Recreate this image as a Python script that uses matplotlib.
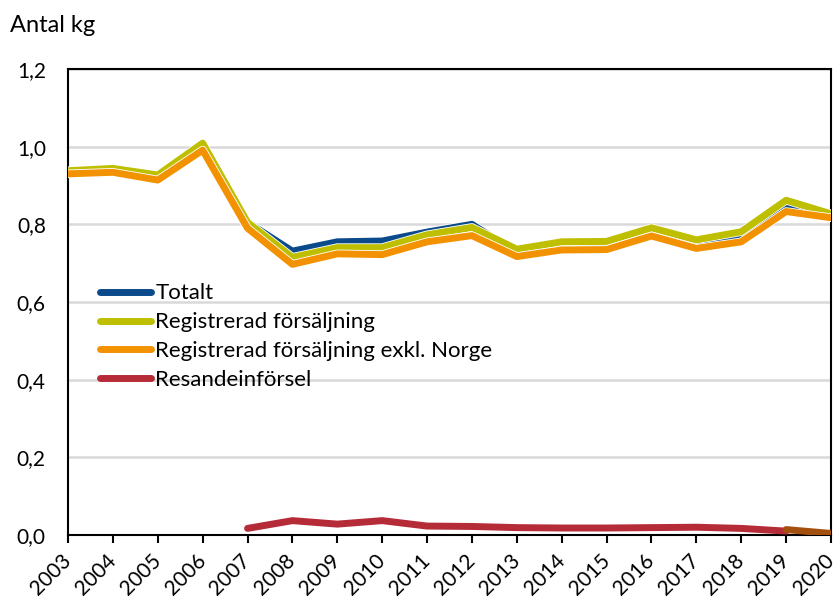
import matplotlib
matplotlib.use("Agg")
import matplotlib.pyplot as plt
import matplotlib.patheffects as pe
from matplotlib.ticker import FuncFormatter

plt.rcParams['font.family'] = ['Lato', 'DejaVu Sans']

years = list(range(2003, 2021))

totalt = [0.933, 0.939, 0.920, 1.000, 0.805, 0.731, 0.755, 0.757, 0.780, 0.800,
          0.727, 0.746, 0.746, 0.779, 0.751, 0.769, 0.845, 0.821]
registrerad = [0.938, 0.944, 0.927, 1.009, 0.805, 0.715, 0.740, 0.740, 0.773, 0.792,
               0.736, 0.755, 0.756, 0.791, 0.760, 0.781, 0.862, 0.827]
exkl_norge = [0.930, 0.934, 0.914, 0.991, 0.790, 0.697, 0.724, 0.722, 0.755, 0.771,
              0.717, 0.734, 0.735, 0.770, 0.738, 0.755, 0.833, 0.817]
resand_years = list(range(2007, 2020))
resand = [0.017, 0.037, 0.028, 0.037, 0.023, 0.022, 0.019, 0.018, 0.018, 0.019,
          0.020, 0.017, 0.010]
# sista segmentet i annan färg (ingen legend)
resand2_years = [2019, 2020]
resand2 = [0.014, 0.004]

fig = plt.figure(figsize=(8.37, 5.99), dpi=100)
ax = fig.add_axes([68 / 837, 1 - 535 / 599, (831 - 68) / 837, (535 - 69) / 599])

lw = 5
edge = [pe.Stroke(linewidth=lw + 1.2, foreground='white'), pe.Normal()]

ax.plot(years, totalt, color='#0B4A8B', lw=lw, label='Totalt',
        solid_capstyle='round', path_effects=edge, zorder=3)
ax.plot(years, registrerad, color='#BDBF00', lw=lw, label='Registrerad försäljning',
        solid_capstyle='round', path_effects=edge, zorder=4)
ax.plot(years, exkl_norge, color='#F39200', lw=lw, label='Registrerad försäljning exkl. Norge',
        solid_capstyle='round', path_effects=edge, zorder=5)
ax.plot(resand_years, resand, color='#B52B38', lw=lw, label='Resandeinförsel',
        solid_capstyle='round', zorder=3)
ax.plot(resand2_years, resand2, color='#A3500F', lw=lw, solid_capstyle='round', zorder=4)

ax.set_xlim(2003, 2020)
ax.set_ylim(0, 1.2)
ax.set_yticks([0, 0.2, 0.4, 0.6, 0.8, 1.0, 1.2])
ax.yaxis.set_major_formatter(FuncFormatter(lambda v, p: f"{v:.1f}".replace('.', ',')))
ax.set_xticks(years)
ax.set_xticklabels([str(y) for y in years], rotation=45, ha='right', va='center',
                   rotation_mode='anchor', fontsize=15)
ax.tick_params(axis='y', length=0, labelsize=15, pad=16)
ax.tick_params(axis='x', length=6, width=1.5, direction='out', pad=10)

ax.grid(axis='y', color='#D9D9D9', lw=1.8, zorder=0)
ax.set_axisbelow(True)
for s in ax.spines.values():
    s.set_linewidth(1.5)
    s.set_color('black')

fig.text(10 / 837, 1 - 25 / 599, 'Antal kg', fontsize=17, va='center', ha='left')

leg = ax.legend(loc='upper left', bbox_to_anchor=(0.03, 0.559), frameon=False,
                fontsize=16, handlelength=2.3, handletextpad=0.2, labelspacing=0.4,
                borderaxespad=0)
for h in leg.get_lines():
    h.set_linewidth(5)
    h.set_path_effects([])

fig.savefig('out.png', dpi=100)
